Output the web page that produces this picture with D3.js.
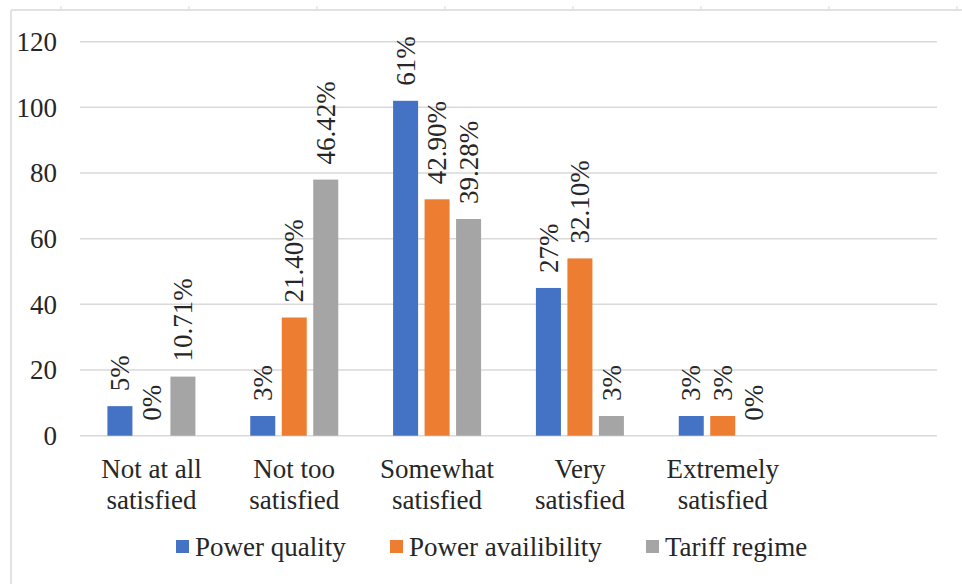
<!DOCTYPE html>
<html>
<head>
<meta charset="utf-8">
<script src="https://cdn.jsdelivr.net/npm/d3@7"></script>
<style>
  html, body { margin: 0; padding: 0; background: #fff; }
  svg { display: block; }
  svg text { font-family: "Times New Roman", "Liberation Serif", Tinos, "DejaVu Serif", serif !important; }
</style>
</head>
<body>
<svg id="chart" width="962" height="584"></svg>
<script>
// Satisfaction categories (two-line labels)
const categories = [
  "Not at all\nsatisfied",
  "Not too\nsatisfied",
  "Somewhat\nsatisfied",
  "Very\nsatisfied",
  "Extremely\nsatisfied"
];
const seriesNames = ["Power quality", "Power availibility", "Tariff regime"];
const seriesColors = ["#4472C4", "#ED7D31", "#A5A5A5"];

// Respondent counts per category
const powerQuality      = [9, 6, 102, 45, 6];
const powerAvailability = [0, 36, 72, 54, 6];
const tariffRegime      = [18, 78, 66, 6, 0];

// Percentage labels shown above each bar
const powerQualityLabels      = ["5%", "3%", "61%", "27%", "3%"];
const powerAvailabilityLabels = ["0%", "21.40%", "42.90%", "32.10%", "3%"];
const tariffRegimeLabels      = ["10.71%", "46.42%", "39.28%", "3%", "0%"];

const yTicks = [0, 20, 40, 60, 80, 100, 120];

const seriesValues = [powerQuality, powerAvailability, tariffRegime];
const seriesLabels = [powerQualityLabels, powerAvailabilityLabels, tariffRegimeLabels];

const svg = d3.select("#chart");
const W = 962, H = 584;
const plot = { left: 80, right: 937, top: 41.7, bottom: 435.7 };
const FONT = 27;
const FAMILY = "Times New Roman, Liberation Serif, Tinos, DejaVu Serif, serif";
const INK = "#262626";

function styleText(sel) {
  return sel.attr("font-family", FAMILY).attr("font-size", FONT).attr("fill", INK);
}

// Outer frame: light border along left and top, with small ruler marks
svg.append("line").attr("x1", 11).attr("x2", W).attr("y1", 10).attr("y2", 10)
  .attr("stroke", "#D9D9D9").attr("stroke-width", 1.5);
svg.append("line").attr("x1", 11).attr("x2", 11).attr("y1", 10).attr("y2", H)
  .attr("stroke", "#D9D9D9").attr("stroke-width", 1.5);
d3.range(8).forEach(i => {
  svg.append("line").attr("x1", 61 + i * 128).attr("x2", 61 + i * 128)
    .attr("y1", 6).attr("y2", 10).attr("stroke", "#D9D9D9").attr("stroke-width", 1);
});

// Scales: the category band has one spare empty slot on the right
const x = d3.scaleBand()
  .domain(categories.concat(["__spare__"]))
  .range([plot.left, plot.right])
  .padding(0);

const groupWidth = 88;
const xInner = d3.scaleBand()
  .domain(d3.range(seriesNames.length))
  .range([0, groupWidth])
  .paddingInner(0.206)
  .paddingOuter(0);

const y = d3.scaleLinear().domain([0, 120]).range([plot.bottom, plot.top]);

// Gridlines
svg.append("g")
  .selectAll("line")
  .data(yTicks)
  .join("line")
  .attr("x1", plot.left).attr("x2", plot.right)
  .attr("y1", d => y(d)).attr("y2", d => y(d))
  .attr("stroke", "#D9D9D9").attr("stroke-width", 1.5);

// Y axis labels
const yAxis = d3.axisLeft(y).tickValues(yTicks).tickSize(0).tickPadding(0);
const yg = svg.append("g").attr("transform", `translate(57,0)`).call(yAxis);
yg.attr("font-family", FAMILY).attr("font-size", FONT);
yg.select(".domain").remove();
styleText(yg.selectAll("text"))
  .attr("dy", "0.33em")
  .attr("x", 0);

// Bars and rotated value labels
const groups = svg.append("g")
  .selectAll("g")
  .data(categories)
  .join("g")
  .attr("transform", d => `translate(${x(d) + (x.bandwidth() - groupWidth) / 2},0)`);

groups.each(function (cat, ci) {
  const g = d3.select(this);
  seriesNames.forEach((s, si) => {
    const v = seriesValues[si][ci];
    const bx = xInner(si);
    if (v > 0) {
      g.append("rect")
        .attr("x", bx)
        .attr("y", y(v))
        .attr("width", xInner.bandwidth())
        .attr("height", y(0) - y(v))
        .attr("fill", seriesColors[si]);
    }
    const cx = bx + xInner.bandwidth() / 2;
    const ty = y(v) - 15;
    styleText(g.append("text"))
      .attr("transform", `translate(${cx},${ty}) rotate(-90)`)
      .attr("text-anchor", "start")
      .attr("dy", "0.34em")
      .text(seriesLabels[si][ci]);
  });
});

// Category labels (two lines, centred under each group)
styleText(svg.append("g")
  .selectAll("text")
  .data(categories)
  .join("text"))
  .attr("text-anchor", "middle")
  .each(function (d) {
    const t = d3.select(this);
    const cx = x(d) + x.bandwidth() / 2;
    d.split("\n").forEach((line, i) => {
      t.append("tspan").attr("x", cx).attr("y", 478 + i * 31).text(line);
    });
  });

// Legend
const legendX = [176, 390, 646];
const legend = svg.append("g")
  .selectAll("g")
  .data(seriesNames)
  .join("g")
  .attr("transform", (d, i) => `translate(${legendX[i]},0)`);
legend.append("rect")
  .attr("x", 0).attr("y", 540).attr("width", 13).attr("height", 13)
  .attr("fill", (d, i) => seriesColors[i]);
styleText(legend.append("text"))
  .attr("x", 19).attr("y", 556)
  .text(d => d);
</script>
</body>
</html>
